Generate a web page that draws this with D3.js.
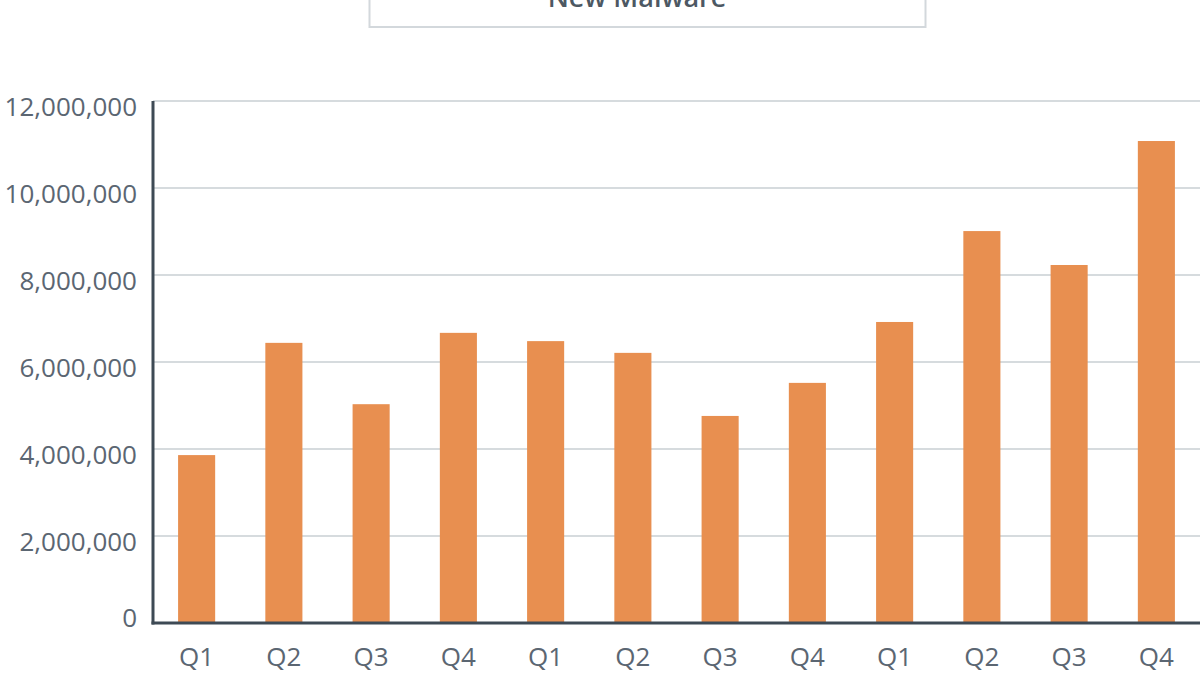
<!DOCTYPE html>
<html>
<head>
<meta charset="utf-8">
<script src="https://cdnjs.cloudflare.com/ajax/libs/d3/7.8.5/d3.min.js"></script>
<style>
  html, body { margin: 0; padding: 0; background: #fff; }
  svg { display: block; font-family: "Open Sans", "Noto Sans", sans-serif; }
</style>
</head>
<body>
<svg id="chart" width="1200" height="675"></svg>
<script>
'use strict';

/* data */
var quarters = ['Q1', 'Q2', 'Q3', 'Q4', 'Q1', 'Q2', 'Q3', 'Q4', 'Q1', 'Q2', 'Q3', 'Q4'];
var newMalware = [3860000, 6440000, 5030000, 6670000, 6480000, 6210000,
                  4760000, 5520000, 6920000, 9010000, 8230000, 11080000];
var yTicks = [0, 2000000, 4000000, 6000000, 8000000, 10000000, 12000000];
var title = 'New Malware';

var svg = d3.select('#chart');

// plot area (note: "top" is taken by window.top, so keep these prefixed)
var plotLeft = 153, plotRight = 1200, plotTop = 101, plotBottom = 623;

var x = d3.scaleBand()
  .domain(d3.range(quarters.length))
  .range([plotLeft, plotRight])
  .paddingInner(0.575)
  .paddingOuter(0.2875);

var y = d3.scaleLinear()
  .domain([0, 12000000])
  .range([plotBottom, plotTop]);

// title box (cut off at the top of the frame, like the source)
svg.append('rect')
  .attr('x', 369.5).attr('y', -30)
  .attr('width', 556).attr('height', 57)
  .attr('fill', '#fff')
  .attr('stroke', '#d3d8dc')
  .attr('stroke-width', 2);

svg.append('text')
  .attr('x', 637).attr('y', 7)
  .attr('text-anchor', 'middle')
  .attr('font-size', 27)
  .attr('font-weight', 600)
  .attr('fill', '#4d5863')
  .text(title);

// gridlines
svg.append('g')
  .selectAll('line')
  .data(yTicks.filter(function(d) { return d > 0; }))
  .enter().append('line')
  .attr('x1', plotLeft).attr('x2', plotRight)
  .attr('y1', function(d) { return y(d); })
  .attr('y2', function(d) { return y(d); })
  .attr('stroke', '#d6dbde')
  .attr('stroke-width', 2);

// bars
svg.append('g')
  .selectAll('rect')
  .data(newMalware)
  .enter().append('rect')
  .attr('x', function(d, i) { return x(i); })
  .attr('width', x.bandwidth())
  .attr('y', function(d) { return y(d); })
  .attr('height', function(d) { return y(0) - y(d); })
  .attr('fill', '#e88f50');

// y axis
var yAxis = svg.append('g')
  .attr('transform', 'translate(' + plotLeft + ',0)')
  .call(d3.axisLeft(y).tickValues(yTicks).tickSize(0).tickPadding(16)
    .tickFormat(d3.format(',')));
yAxis.select('.domain').remove();
yAxis.selectAll('text')
  .attr('font-size', 26)
  .attr('fill', '#5b6672')
  .attr('font-family', '"Open Sans", sans-serif')
  // labels sit a bit under their gridline, the zero one a bit above the axis
  .attr('dy', function(d) { return d === 0 ? '0.12em' : '0.56em'; });

// x axis
var xAxis = svg.append('g')
  .attr('transform', 'translate(0,' + plotBottom + ')')
  .call(d3.axisBottom(x).tickSize(0).tickPadding(25)
    .tickFormat(function(i) { return quarters[i]; }));
xAxis.select('.domain').remove();
xAxis.selectAll('text')
  .attr('font-size', 26)
  .attr('fill', '#5b6672')
  .attr('font-family', '"Open Sans", sans-serif');

// axis lines
svg.append('line')
  .attr('x1', plotLeft).attr('x2', plotLeft)
  .attr('y1', plotTop).attr('y2', plotBottom + 1.5)
  .attr('stroke', '#3e4a55').attr('stroke-width', 3);
svg.append('line')
  .attr('x1', plotLeft - 1.5).attr('x2', plotRight)
  .attr('y1', plotBottom).attr('y2', plotBottom)
  .attr('stroke', '#3e4a55').attr('stroke-width', 3);
</script>
</body>
</html>
